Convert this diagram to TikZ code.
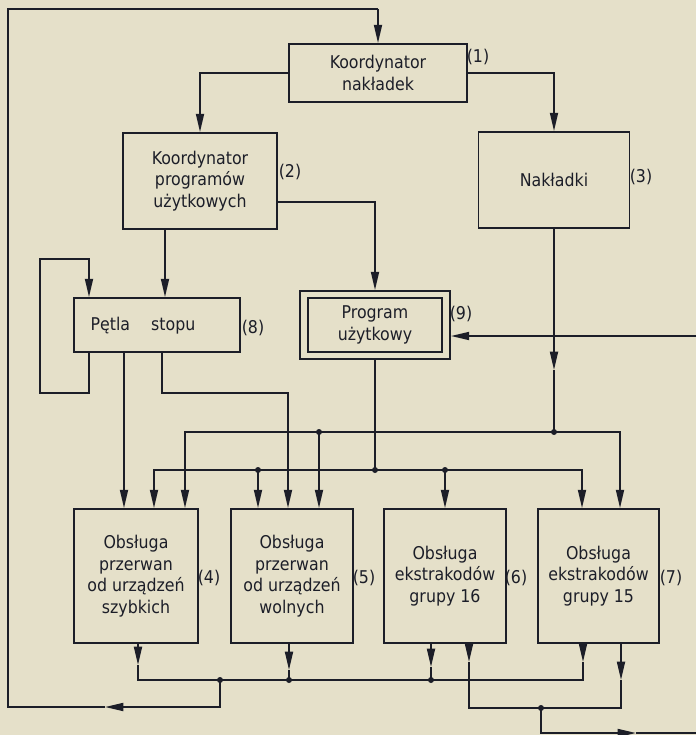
\documentclass[tikz,border=0pt]{standalone}
\usepackage{fontspec}
\setmainfont{DejaVu Sans Condensed}
\usetikzlibrary{arrows.meta}
\definecolor{paper}{RGB}{229,224,201}
\definecolor{ink}{RGB}{28,30,40}
\begin{document}
\begin{tikzpicture}[x=0.03cm,y=-0.03cm,
  font=\fontsize{15}{18.5}\selectfont,
  line/.style={draw=ink,line width=1.5pt},
  arr/.style={line,-{Triangle[length=5.5mm,width=2.4mm]}},
  box/.style={draw=ink,line width=1.5pt,inner sep=0pt,align=center,text=ink},
  lbl/.style={inner sep=0pt,text=ink},
  dot/.style={fill=ink}]
\fill[paper] (0,0) rectangle (696,735);
\useasboundingbox (0,0) rectangle (696,735);

% boxes
\node[box,minimum width=5.34cm,minimum height=1.74cm] (B1) at (378,73) {Koordynator\\nakładek};
\node[box,minimum width=4.62cm,minimum height=2.88cm] (B2) at (200,181) {Koordynator\\programów\\użytkowych};
\node[box,minimum width=4.53cm,minimum height=2.88cm] (B3) at (554,180) {Nakładki};
\node[box,minimum width=4.98cm,minimum height=1.62cm] (B8) at (157,325) {};
\node[lbl] (B8t) at (143,326) {Pętla\hspace{1.2em}stopu};
\node[box,minimum width=4.5cm,minimum height=2.04cm] (B9) at (375,325) {};
\node[box,minimum width=4.02cm,minimum height=1.62cm] (B9i) at (375,325) {Program\\użytkowy};
\node[box,minimum width=3.72cm,minimum height=4.02cm] (B4) at (136,576) {Obsługa\\przerwan\\od urządzeń\\szybkich};
\node[box,minimum width=3.66cm,minimum height=4.02cm] (B5) at (292,576) {Obsługa\\przerwan\\od urządzeń\\wolnych};
\node[box,minimum width=3.66cm,minimum height=4.02cm] (B6) at (445,576) {Obsługa\\ekstrakodów\\grupy 16};
\node[box,minimum width=3.63cm,minimum height=4.02cm] (B7) at (598.5,576) {Obsługa\\ekstrakodów\\grupy 15};

% labels
\node[lbl] (L1) at (478,57) {(1)};
\node[lbl] (L2) at (290,172) {(2)};
\node[lbl] (L3) at (641,177) {(3)};
\node[lbl] (L8) at (253,328) {(8)};
\node[lbl] (L9) at (461,314) {(9)};
\node[lbl] (L4) at (209,578) {(4)};
\node[lbl] (L5) at (364,578) {(5)};
\node[lbl] (L6) at (516,578) {(6)};
\node[lbl] (L7) at (671,578) {(7)};

% coordinates
\coordinate (jA1) at (319,432);
\coordinate (jA2) at (554,432);
\coordinate (jB1) at (258,470);
\coordinate (jB2) at (375,470);
\coordinate (jB3) at (445,470);
\coordinate (jD1) at (220,680);
\coordinate (jD2) at (289,680);
\coordinate (jD3) at (431,680);
\coordinate (jC) at (541,708);
\coordinate (x89) at (89,0);
\coordinate (x124) at (124,0);
\coordinate (x138) at (138,0);
\coordinate (x154) at (154,0);
\coordinate (x162) at (162,0);
\coordinate (x165) at (165,0);
\coordinate (x185) at (185,0);
\coordinate (x469) at (469,0);
\coordinate (x582) at (582,0);
\coordinate (x583) at (583,0);
\coordinate (x620) at (620,0);
\coordinate (x621) at (621,0);
\coordinate (mA) at (105,707);
\coordinate (ll) at (8,707);
\coordinate (lt) at (8,9);
\coordinate (tt) at (378,9);
\coordinate (b2o) at (277,202);
\coordinate (s1) at (89,393);
\coordinate (s2) at (40,393);
\coordinate (s3) at (40,259);
\coordinate (s4) at (89,259);
\coordinate (p288) at (288,393);
\coordinate (mN) at (554,370);
\coordinate (t4) at (138,665);
\coordinate (t5) at (289,670);
\coordinate (t6a) at (431,667);
\coordinate (t6b) at (469,662);
\coordinate (t7a) at (583,662);
\coordinate (t7b) at (621,680);
\coordinate (mB) at (636,733);
\coordinate (rB) at (696,733);
\coordinate (rin) at (696,336);

% outer feedback loop
\draw[arr] (jD1) |- (mA);
\draw[line] (mA) -- (ll) -- (lt) -- (tt);
\draw[arr] (tt) -- (B1.north);

% from coordinators
\draw[arr] (B1.west) -| (B2.north);
\draw[arr] (B1.east) -| (B3.north);
\draw[arr] (b2o) -| (B9.north);
\draw[arr] (B2.south -| x165) -- (B8.north -| x165);

% stop loop
\draw[arr] (B8.south -| s1) -- (s1) -- (s2) -- (s3) -- (s4) -- (B8.north -| s4);
\draw[arr] (B8.south -| x124) -- (B4.north -| x124);
\draw[arr] (B8.south -| x162) |- (p288) -- (B5.north -| p288);

% Nakladki and program outputs
\draw[arr] (B3.south) -- (mN);
\draw[line] (mN) -- (jA2);
\draw[line] (B9.south) -- (jB2);
\draw[arr] (rin) -- (B9.east |- rin);

% bus A
\draw[arr] (jA1) -| (B4.north -| x185);
\draw[arr] (jA1) -- (B5.north -| jA1);
\draw[line] (jA1) -- (jA2);
\draw[arr] (jA2) -| (B7.north -| x620);

% bus B
\draw[arr] (jB1) -| (B4.north -| x154);
\draw[arr] (jB1) -- (B5.north -| jB1);
\draw[line] (jB1) -- (jB3);
\draw[arr] (jB3) -- (B6.north -| jB3);
\draw[arr] (jB3) -| (B7.north -| x582);

% bottom outputs, bus D
\draw[arr] (B4.south -| x138) -- (t4);
\draw[line] (t4) |- (jD1);
\draw[arr] (B5.south -| jD2) -- (t5);
\draw[line] (t5) -- (jD2);
\draw[arr] (B6.south -| jD3) -- (t6a);
\draw[line] (t6a) -- (jD3);
\draw[arr] (B7.south -| x583) -- (t7a);
\draw[line] (t7a) |- (jD3);
\draw[line] (jD1) -- (jD3);

% bus C
\draw[arr] (B6.south -| x469) -- (t6b);
\draw[line] (t6b) |- (jC);
\draw[arr] (B7.south -| x621) -- (t7b);
\draw[line] (t7b) |- (jC);
\draw[arr] (jC) |- (mB);
\draw[line] (mB) -- (rB);

% junction dots
\foreach \p in {jA1,jA2,jB1,jB2,jB3,jD1,jD2,jD3,jC}
  \fill[dot] (\p) circle (0.09cm);
\end{tikzpicture}
\end{document}
